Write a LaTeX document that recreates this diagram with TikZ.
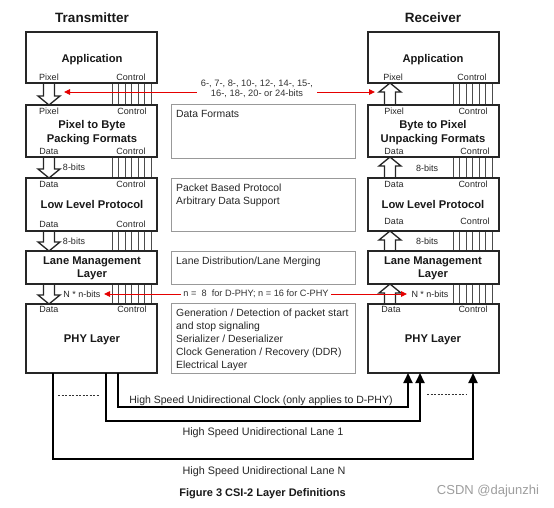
\documentclass[tikz,border=0pt]{standalone}
\usepackage{fontspec}
\setmainfont{Liberation Sans}
\usetikzlibrary{arrows.meta,calc,shadows}
\newcommand{\hollowarrow}[3]{%
  \draw[hollow] let \p1=(#1), \p2=(#2) in
    (\x1-5.5pt,\y1) -- (\x1-5.5pt,{\y2+(#3)}) -- (\x1-11pt,{\y2+(#3)}) -- (\x1,\y2)
    -- (\x1+11pt,{\y2+(#3)}) -- (\x1+5.5pt,{\y2+(#3)}) -- (\x1+5.5pt,\y1) -- cycle;}
\begin{document}
\begin{tikzpicture}[x=1pt,y=-1pt,
  layer/.style={draw=black!85, line width=1.4pt, fill=white, minimum width=131pt, inner sep=0pt, outer sep=0pt},
  desc/.style={draw=black!40, line width=1pt, fill=white, minimum width=184pt, inner sep=0pt, outer sep=0pt,
    drop shadow={shadow xshift=0.7pt, shadow yshift=-0.7pt, fill=black!30}},
  ttl/.style={font=\bfseries\fontsize{11.2}{13}\selectfont, anchor=base, inner sep=0pt, text=black!90},
  head/.style={font=\bfseries\fontsize{13.5}{15}\selectfont, anchor=base, inner sep=0pt, text=black!90},
  lab/.style={font=\fontsize{9}{10}\selectfont, anchor=base, inner sep=0pt, text=black!85},
  dtext/.style={font=\fontsize{10.4}{12.9}\selectfont, anchor=north west, inner sep=0pt, align=left, text=black!85},
  hollow/.style={draw=black!85, line width=1.3pt, fill=white, line join=miter},
  ctrl/.style={draw=black!70, line width=0.8pt},
  redarr/.style={draw=red!90!black, line width=0.9pt, {Triangle[length=6pt,width=5.5pt]}-{Triangle[length=6pt,width=5.5pt]}},
  lane/.style={draw=black, line width=2.2pt, -{Triangle[length=10pt,width=9pt]}},
  big/.style={font=\fontsize{10.8}{13}\selectfont, anchor=base, inner sep=0pt, text=black!85},
  dots/.style={draw=black!80, line width=0.9pt, dash pattern=on 2.2pt off 1.3pt},
]
\useasboundingbox (0,0) rectangle (554,507);
\fill[white] (0,0) rectangle (554,507);

% ---------- layer boxes (positions only; drawn later) ----------
\path
  (91.5,57.5)  node[layer, minimum height=51pt] (appL) {}
  (91.5,131)   node[layer, minimum height=52pt] (pbL) {}
  (91.5,204.5) node[layer, minimum height=53pt] (llL) {}
  (91.5,267.5) node[layer, minimum height=33pt] (lmL) {}
  (91.5,338.5) node[layer, minimum height=69pt] (phyL) {}
  (433.5,57.5)  node[layer, minimum height=51pt] (appR) {}
  (433.5,131)   node[layer, minimum height=52pt] (bpR) {}
  (433.5,204.5) node[layer, minimum height=53pt] (llR) {}
  (433.5,267.5) node[layer, minimum height=33pt] (lmR) {}
  (433.5,338.5) node[layer, minimum height=69pt] (phyR) {};

% ---------- control lines ----------
\foreach \u/\l in {appL/pbL,pbL/llL,llL/lmL,lmL/phyL}
  \foreach \x in {112,118.5,125,131.5,138,144.5,151}
    \draw[ctrl] (\x,0 |- \u.south) -- (\x,0 |- \l.north);
\foreach \u/\l in {appR/bpR,bpR/llR,llR/lmR,lmR/phyR}
  \foreach \x in {453,459.5,466,472.5,479,485.5,492}
    \draw[ctrl] (\x,0 |- \u.south) -- (\x,0 |- \l.north);

% ---------- hollow data arrows ----------
\coordinate (lx) at (49,0);
\coordinate (rx) at (390,0);
\hollowarrow{lx |- appL.south}{lx |- pbL.north}{9pt}
\hollowarrow{lx |- pbL.south}{lx |- llL.north}{9pt}
\hollowarrow{lx |- llL.south}{lx |- lmL.north}{9pt}
\hollowarrow{lx |- lmL.south}{lx |- phyL.north}{9pt}
\hollowarrow{rx |- bpR.north}{rx |- appR.south}{-9pt}
\hollowarrow{rx |- llR.north}{rx |- bpR.south}{-9pt}
\hollowarrow{rx |- lmR.north}{rx |- llR.south}{-9pt}
\hollowarrow{rx |- phyR.north}{rx |- lmR.south}{-9pt}

% ---------- draw layer boxes on top ----------
\foreach \n in {appL,pbL,llL,lmL,phyL,appR,bpR,llR,lmR,phyR}
  \draw[black!85, line width=1.4pt, fill=white] (\n.north west) rectangle (\n.south east);

% ---------- middle description boxes ----------
\node[desc, minimum height=54pt] (dfB) at (263,131) {};
\node[desc, minimum height=53pt] (ppB) at (263,204.5) {};
\node[desc, minimum height=33pt] (ldB) at (263,267.5) {};
\node[desc, minimum height=70pt] (gnB) at (263,338) {};
\node[dtext] (dfT) at ([xshift=5pt,yshift=-6pt]dfB.north west) {Data Formats};
\node[dtext] (ppT) at ([xshift=5pt,yshift=-6pt]ppB.north west) {Packet Based Protocol\\Arbitrary Data Support};
\node[dtext] (ldT) at ([xshift=5pt,yshift=-6pt]ldB.north west) {Lane Distribution/Lane Merging};
\node[dtext] (gnT) at ([xshift=5pt,yshift=-6pt]gnB.north west) {Generation / Detection of packet start\\and stop signaling\\Serializer / Deserializer\\Clock Generation / Recovery (DDR)\\Electrical Layer};

% ---------- headings ----------
\node[head] (hT) at (92,22.8) {Transmitter};
\node[head] (hR) at (433,22.8) {Receiver};

% ---------- titles ----------
\node[ttl] (t1) at (92,62) {Application};
\node[ttl] (t2) at (92,128) {Pixel to Byte};
\node[ttl] (t3) at (92,142) {Packing Formats};
\node[ttl] (t4) at (92,208) {Low Level Protocol};
\node[ttl] (t5) at (92,264) {Lane Management};
\node[ttl] (t6) at (92,277) {Layer};
\node[ttl] (t7) at (92,342) {PHY Layer};
\node[ttl] (u1) at (433,62) {Application};
\node[ttl] (u2) at (433,128) {Byte to Pixel};
\node[ttl] (u3) at (433,142) {Unpacking Formats};
\node[ttl] (u4) at (433,208) {Low Level Protocol};
\node[ttl] (u5) at (433,264) {Lane Management};
\node[ttl] (u6) at (433,277) {Layer};
\node[ttl] (u7) at (433,342.5) {PHY Layer};

% ---------- small labels ----------
\node[lab] (a1) at (49,80.2) {Pixel};
\node[lab] (a2) at (131,80.2) {Control};
\node[lab] (a3) at (49,114.2) {Pixel};
\node[lab] (a4) at (132,114.2) {Control};
\node[lab] (a5) at (49,154.2) {Data};
\node[lab] (a6) at (131,154.2) {Control};
\node[lab] (a7) at (49,187.2) {Data};
\node[lab] (a8) at (131,187.2) {Control};
\node[lab] (a9) at (49,227.2) {Data};
\node[lab] (a10) at (131,227.2) {Control};
\node[lab] (a11) at (49,312.2) {Data};
\node[lab] (a12) at (132,312.2) {Control};
\node[lab] (b1) at (393,80.2) {Pixel};
\node[lab] (b2) at (472,80.2) {Control};
\node[lab] (b3) at (394,114.2) {Pixel};
\node[lab] (b4) at (473,114.2) {Control};
\node[lab] (b5) at (394,154.2) {Data};
\node[lab] (b6) at (475,154.2) {Control};
\node[lab] (b7) at (394,187.2) {Data};
\node[lab] (b8) at (473,187.2) {Control};
\node[lab] (b9) at (394,224) {Data};
\node[lab] (b10) at (475,224) {Control};
\node[lab] (b11) at (391,312.2) {Data};
\node[lab] (b12) at (473,312.2) {Control};
\node[lab] (e1) at (74,170.2) {8-bits};
\node[lab] (e2) at (74,244.2) {8-bits};
\node[lab] (e3) at (427,171.2) {8-bits};
\node[lab] (e4) at (427,244.2) {8-bits};
\node[lab] (nL) at (82,297.2) {N * n-bits};
\node[lab] (nR) at (430,297.2) {N * n-bits};

% ---------- red arrows ----------
\coordinate (r1a) at (64,92);
\coordinate (r1b) at (375,92);
\draw[redarr] (r1a) -- (r1b);
\node[font=\fontsize{9.3}{10.6}\selectfont, align=center, fill=white, inner xsep=4pt, inner ysep=1pt, text=black!80] (bits) at (257,89)
  {6-, 7-, 8-, 10-, 12-, 14-, 15-,\\16-, 18-, 20- or 24-bits};
\coordinate (r2a) at (104,294);
\coordinate (r2b) at (407,294);
\draw[redarr] (r2a) -- (r2b);
\node[font=\fontsize{9.2}{10.6}\selectfont, fill=white, inner xsep=2pt, inner ysep=1pt, text=black!80] (nn) at (256,293.5)
  {n =\ \ 8\ \ for D-PHY; n = 16 for C-PHY};

% ---------- bottom lanes ----------
\coordinate (ck1) at (118,407);  \coordinate (ck2) at (408,407);
\coordinate (l11) at (106,421);  \coordinate (l12) at (420,421);
\coordinate (lN1) at (53,459);   \coordinate (lN2) at (473,459);
\draw[lane] (ck1 |- phyL.south) -- (ck1) -- (ck2) -- (ck2 |- phyR.south);
\draw[lane] (l11 |- phyL.south) -- (l11) -- (l12) -- (l12 |- phyR.south);
\draw[lane] (lN1 |- phyL.south) -- (lN1) -- (lN2) -- (lN2 |- phyR.south);
\draw[dots] (58,395) -- (99,395);
\draw[dots] (427,394) -- (467,394);

\node[font=\fontsize{10.5}{12}\selectfont, anchor=base, inner sep=0pt, text=black!85] (ckT) at (261,403) {High Speed Unidirectional Clock (only applies to D-PHY)};
\node[big] (l1T) at (263,435) {High Speed Unidirectional Lane 1};
\node[big] (lNT) at (264,474.5) {High Speed Unidirectional Lane N};
\node[font=\bfseries\fontsize{11}{13}\selectfont, anchor=base, inner sep=0pt, text=black!90] (cap) at (262.5,496) {Figure 3 CSI-2 Layer Definitions};
\node[font=\fontsize{13}{15}\selectfont, anchor=base, inner sep=0pt, text=black!38] (wm) at (488,494.6) {CSDN @dajunzhi};
\end{tikzpicture}
\end{document}
